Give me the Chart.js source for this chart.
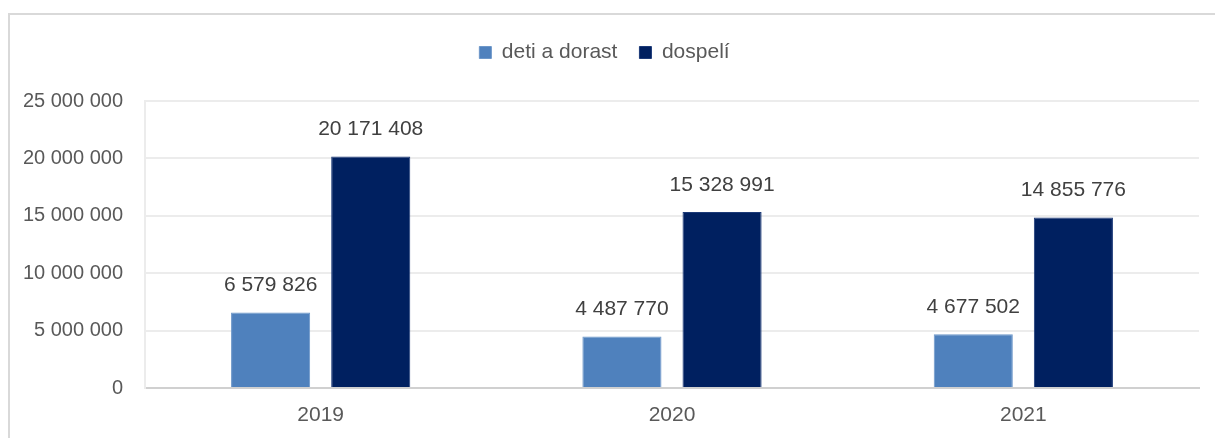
<!DOCTYPE html>
<html>
<head>
<meta charset="utf-8">
<script src="https://cdn.jsdelivr.net/npm/chart.js@4/dist/chart.umd.min.js"></script>
<style>
  html, body { margin: 0; padding: 0; background: #fff; }
  #wrap { position: relative; width: 1215px; height: 438px; }
  #ramik { position: absolute; left: 8px; top: 13px; right: 0; bottom: 0;
           border-top: 2px solid #d9d9d9; border-left: 2px solid #d9d9d9; pointer-events: none; }
  canvas { display: block; }
</style>
</head>
<body>
<div id="wrap">
  <canvas id="graf" width="1215" height="438"></canvas>
  <div id="ramik"></div>
</div>
<script>
const roky = ['2019', '2020', '2021'];
const detiADorast = [6579826, 4487770, 4677502];
const dospeli = [20171408, 15328991, 14855776];
const yMax = 25000000;
const yKrok = 5000000;

const pismo = "'Liberation Sans Narrow', 'Arial Narrow', 'Liberation Sans', sans-serif";

// medzery ako oddelovac tisicov
const formatuj = (cislo) => String(cislo).replace(/\B(?=(\d{3})+(?!\d))/g, ' ');

const popiskyHodnot = {
  id: 'popiskyHodnot',
  afterDatasetsDraw(chart) {
    const { ctx } = chart;
    ctx.save();
    ctx.font = `21px ${pismo}`;
    ctx.fillStyle = '#404040';
    ctx.textAlign = 'center';
    ctx.textBaseline = 'middle';
    chart.data.datasets.forEach((ds, i) => {
      chart.getDatasetMeta(i).data.forEach((bar, j) => {
        ctx.fillText(formatuj(ds.data[j]), bar.x, bar.y - 27);
      });
    });
    ctx.restore();
  }
};

// viac miesta pod legendou
const medzeraLegendy = {
  id: 'medzeraLegendy',
  afterInit(chart) {
    const povodnyFit = chart.legend.fit;
    chart.legend.fit = function () {
      povodnyFit.call(this);
      this.height += 28;
    };
  }
};

new Chart(document.getElementById('graf'), {
  type: 'bar',
  data: {
    labels: roky,
    datasets: [{
      label: 'deti a dorast',
      data: detiADorast,
      backgroundColor: '#4F81BD',
      borderColor: '#6d97c9',
      borderWidth: 1
    }, {
      label: 'dospelí',
      data: dospeli,
      backgroundColor: '#002060',
      borderColor: '#1c3a78',
      borderWidth: 1
    }]
  },
  options: {
    responsive: false,
    animation: false,
    devicePixelRatio: 1,
    categoryPercentage: 0.57,
    barPercentage: 0.79,
    layout: {
      padding: { left: 10, right: 16, top: 20, bottom: 0 }
    },
    plugins: {
      tooltip: { enabled: false },
      legend: {
        position: 'top',
        labels: {
          boxWidth: 12,
          boxHeight: 12,
          padding: 22,
          color: '#595959',
          font: { size: 21, family: pismo }
        }
      }
    },
    scales: {
      x: {
        afterFit(scale) { scale.height = 50; },
        grid: { display: false, drawTicks: false },
        border: { color: '#d0d0d0', width: 2 },
        ticks: {
          color: '#595959',
          padding: 15,
          font: { size: 21, family: pismo }
        }
      },
      y: {
        min: 0,
        max: yMax,
        afterFit(scale) { scale.width = 135; },
        grid: { color: '#ececec', lineWidth: 2, drawTicks: false },
        border: { color: '#ececec', width: 2 },
        ticks: {
          stepSize: yKrok,
          color: '#595959',
          padding: 22,
          font: { size: 20, family: pismo },
          callback: (v) => formatuj(v)
        }
      }
    }
  },
  plugins: [popiskyHodnot, medzeraLegendy]
});
</script>
</body>
</html>
